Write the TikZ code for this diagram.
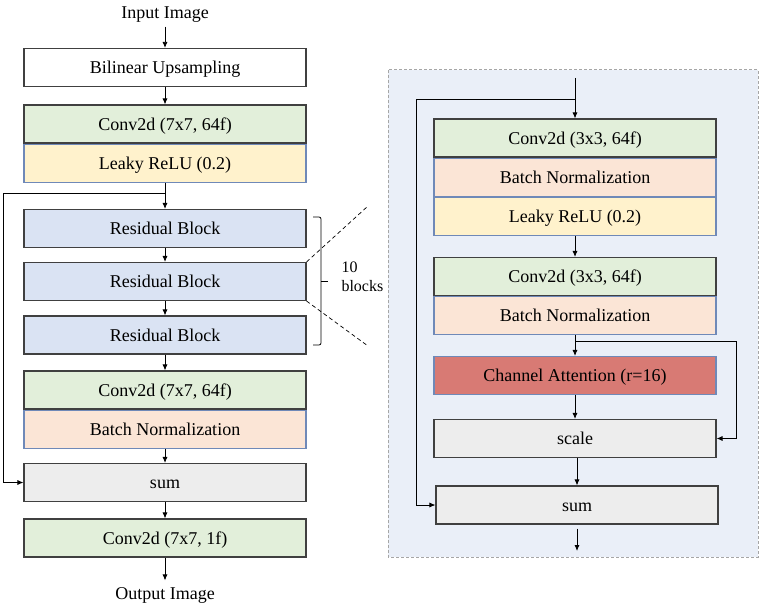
\documentclass[tikz,border=0pt]{standalone}
\usepackage{fontspec}
\setmainfont{Liberation Serif}
\usetikzlibrary{arrows.meta,positioning}

\definecolor{convgreen}{HTML}{E2EFDA}
\definecolor{bnpeach}{HTML}{FBE5D6}
\definecolor{reluyellow}{HTML}{FFF2CC}
\definecolor{resblue}{HTML}{DAE3F3}
\definecolor{opgrey}{HTML}{EDEDED}
\definecolor{attred}{HTML}{D87A74}
\definecolor{panelbg}{HTML}{EAEFF8}
\definecolor{edgeblue}{HTML}{6F89B8}
\definecolor{edgedark}{HTML}{404040}

\begin{document}
\begin{tikzpicture}[x=1pt,y=-1pt,node distance=0pt,
  >={Latex[length=6pt,width=5pt]},
  every node/.style={font=\fontsize{18}{21}\selectfont},
  label/.style={text height=13pt,text depth=1pt},
  layer/.style={label,draw=edgedark,line width=1.1pt,minimum width=282pt,minimum height=38pt,inner sep=0pt},
  conv/.style={layer,fill=convgreen},
  bn/.style={layer,fill=bnpeach,draw=edgeblue},
  relu/.style={layer,fill=reluyellow,draw=edgeblue},
  res/.style={layer,fill=resblue},
  op/.style={layer,fill=opgrey},
  att/.style={layer,fill=attred,draw=edgeblue},
  flow/.style={->,line width=0.8pt}]
  \useasboundingbox (0,0) rectangle (766,610);

  % generator
  \node[label] (inp)  at (165,13)    {Input Image};
  \node[layer] (up)   at (165,67.5)  {Bilinear Upsampling};
  \node[conv]  (c1)   at (165,124)   {Conv2d (7x7, 64f)};
  \node[relu]  (lr1)  [below=of c1]  {Leaky ReLU (0.2)};
  \node[res]   (rb1)  at (165,228.5) {Residual Block};
  \node[res]   (rb2)  at (165,281.5) {Residual Block};
  \node[res]   (rb3)  at (165,335)   {Residual Block};
  \node[conv]  (c2)   at (165,390)   {Conv2d (7x7, 64f)};
  \node[bn]    (bn1)  [below=of c2]  {Batch Normalization};
  \node[op]    (sum1) at (165,482.5) {sum};
  \node[conv]  (c3)   at (165,538)   {Conv2d (7x7, 1f)};
  \node[label] (out)  at (165,593)   {Output Image};
  \coordinate  (skl)  at (3.5,193);

  \path[flow] ([yshift=-3pt]inp.south) edge (up.north)
        (up)   edge (c1)
        (lr1)  edge (rb1)
        (rb1)  edge (rb2)
        (rb2)  edge (rb3)
        (rb3)  edge (c2)
        (bn1)  edge (sum1)
        (sum1) edge (c3)
        (c3)   edge ([yshift=2pt]out.north)
        ;
  \draw[flow] (lr1.south |- skl) -- (skl) |- (sum1.west);

  % brace
  \draw[line width=0.8pt,rounded corners=2pt] (313,217) -- (321,217) -- (321,345) -- (313,345);
  \draw[line width=0.8pt] (321,281) -- (328,281);
  \node[font=\fontsize{16}{19}\selectfont,align=left,anchor=west] (nb) at (338,277) {10\\blocks};

  % zoom lines
  \coordinate (zt) at (368,206);
  \coordinate (zb) at (368,346);
  \draw[dashed,dash pattern=on 4pt off 3pt,line width=0.7pt] (rb2.north east) -- (zt);
  \draw[dashed,dash pattern=on 4pt off 3pt,line width=0.7pt] (rb2.south east) -- (zb);

  % residual block
  \draw[gray!70,fill=panelbg,line width=1pt,dash pattern=on 3pt off 2pt] (388,70) rectangle (758,557);
  \node[conv]  (rc1)  at (575,138)   {Conv2d (3x3, 64f)};
  \node[bn]    (rbn1) [below=of rc1] {Batch Normalization};
  \node[relu]  (rlr)  [below=of rbn1] {Leaky ReLU (0.2)};
  \node[conv]  (rc2)  at (575,276.5) {Conv2d (3x3, 64f)};
  \node[bn]    (rbn2) [below=of rc2] {Batch Normalization};
  \node[att]   (ca)   at (575,375.5) {Channel Attention (r=16)};
  \node[op]    (sc)   at (575,438.5) {scale};
  \node[op]    (rsum) at (577,505)   {sum};
  \coordinate  (rin)  at (575,78);
  \coordinate  (rout) at (577,551);
  \coordinate  (rskp) at (416,99);
  \coordinate  (rbr)  at (736,341);

  \path[flow] (rin)  edge (rc1.north)
        (rlr)  edge (rc2)
        (rbn2) edge (ca)
        (ca)   edge (sc)
        (rsum.north |- sc.south) edge (rsum.north)
        ([yshift=-4pt]rsum.south) edge (rout)
        ;
  \draw[flow] (rin |- rskp) -- (rskp) |- (rsum.west);
  \draw[flow] (rbn2.south |- rbr) -- (rbr) |- (sc.east);
\end{tikzpicture}
\end{document}
